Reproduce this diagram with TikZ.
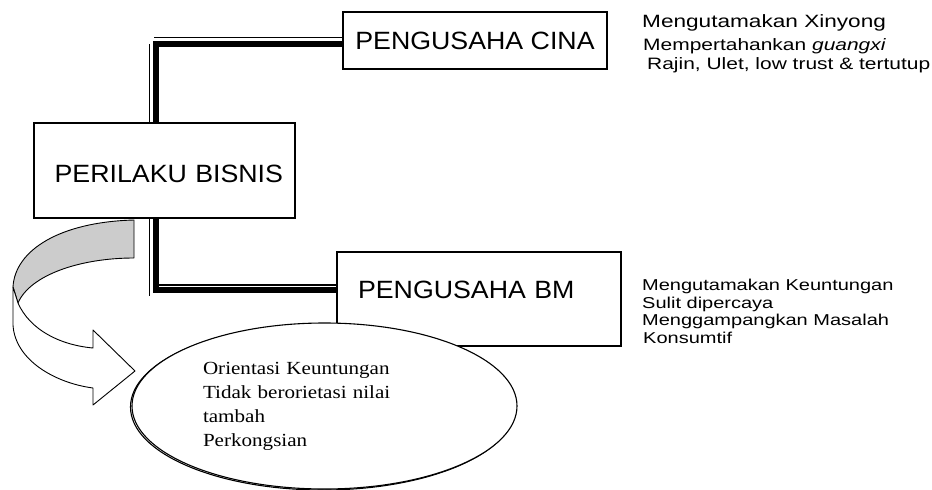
\documentclass[tikz,border=0pt]{standalone}
\usepackage{fontspec}
\setmainfont{Liberation Serif}
\newfontfamily\headfont[FakeStretch=1.07]{Liberation Sans}
\newfontfamily\notefont[FakeStretch=1.27]{Liberation Sans}
\newfontfamily\ovalfont[FakeStretch=1.14]{Liberation Serif}
\usepackage{tikz}
\usetikzlibrary{shapes, shadows}
\usetikzlibrary{calc}

\begin{document}
\begin{tikzpicture}[x=1pt, y=-1pt,
	headbox/.style={draw, rectangle, line width=1.1pt, inner sep=0pt, text height=18pt, text depth=0pt, font=\headfont\fontsize{25}{30}\selectfont},
	thickrule/.style={draw, line width=5.5pt},
	thinrule/.style={draw, line width=1.3pt},
	notes/.style={inner sep=0pt, anchor=north west, align=left}]
	\useasboundingbox (0,0) rectangle (932,490);

	\node[headbox, minimum width=261pt, minimum height=95pt, text height=23pt, align=right, text width=237pt, inner xsep=12pt](perilaku) at (164.5, 170.5) {PERILAKU BISNIS};
	\node[headbox, minimum width=264pt, minimum height=57pt](cina) at (475, 40.5) {PENGUSAHA CINA};
	\node[headbox, minimum width=284pt, minimum height=94pt, text depth=20pt, align=left, text width=242pt, inner xsep=21pt](bm) at (479, 299) {PENGUSAHA BM};

	% double rules, thick with a thin one beside it
	\draw[thickrule] ([xshift=-8.3pt]perilaku.north) |- ([yshift=-3.7pt]cina.west);
	\draw[thinrule] ([xshift=-15.2pt]perilaku.north) -- ++(0,-78);
	\draw[thinrule] ([yshift=3.2pt]cina.west) -- ++(-188,0);

	\draw[thickrule] ([xshift=-8.3pt]perilaku.south) |- ([yshift=9pt]bm.west);
	\draw[thinrule] ([xshift=-15.2pt]perilaku.south) -- ++(0,77);
	\draw[thinrule] ([yshift=14pt]bm.west) -- ++(-178,0);

	% curved arrow
	\filldraw[fill=black!20, line width=0.9pt, line join=round] (134,220) .. controls (60,222) and (15,250) .. (13,287) -- (18,303) .. controls (30,275) and (80,258) .. (134,258) -- cycle;
	\filldraw[fill=white, line width=0.9pt, line join=round] (18,303) .. controls (30,330) and (60,345) .. (93,348) -- (93,330) -- (135,371) -- (93,405) -- (93,388) .. controls (55,383) and (15,360) .. (13,325) -- (13,287) -- cycle;

	\node[draw, ellipse, line width=1.1pt, fill=white, minimum width=385pt, minimum height=166pt, text width=243pt, align=left, inner sep=0pt, font=\ovalfont\fontsize{18.5}{24}\selectfont, copy shadow={shadow xshift=-1.5pt, shadow yshift=-1pt}](orientasi) at (324.5, 406) {Orientasi Keuntungan\\Tidak berorietasi nilai\\tambah\\Perkongsian};

	\node[notes, font=\notefont\fontsize{16.5}{19}\selectfont](cinaciri) at (642, 14.8) {{\fontsize{17.8}{19}\selectfont Mengutamakan Xinyong}\\[4pt]\hspace*{1pt}Mempertahankan \textit{guangxi}\\\hspace*{5pt}Rajin, Ulet, low trust \& tertutup};
	\node[notes, font=\notefont\fontsize{15.75}{17.5}\selectfont](bmciri) at (642, 279.2) {Mengutamakan Keuntungan\\Sulit dipercaya\\Menggampangkan Masalah\\\hspace*{1pt}Konsumtif};
\end{tikzpicture}
\end{document}
